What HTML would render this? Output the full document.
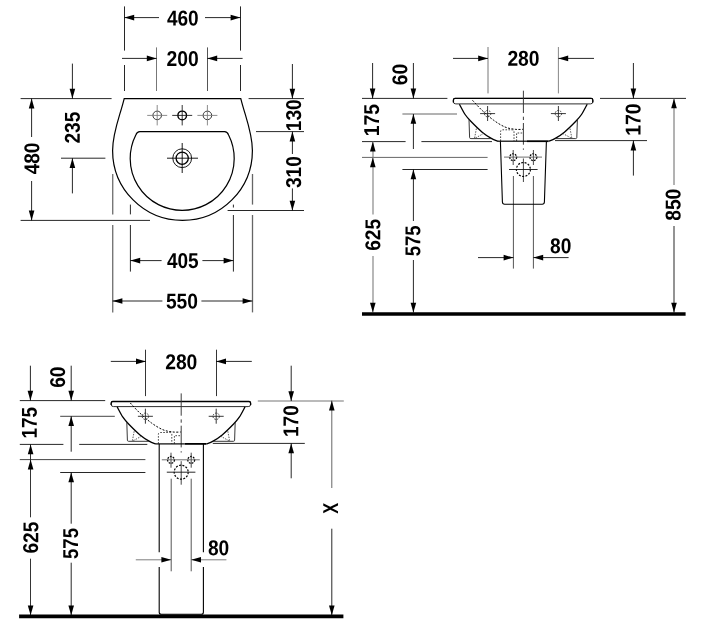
<!DOCTYPE html>
<html><head><meta charset="utf-8"><title>Drawing</title>
<style>
html,body{margin:0;padding:0;background:#fff}
svg{display:block;will-change:transform}
text{font-family:"Liberation Sans",sans-serif;font-weight:bold;font-size:21.5px;fill:#000}
</style></head><body>
<svg width="702" height="630" viewBox="0 0 702 630">
<rect width="702" height="630" fill="#fff"/>
<line x1="124.50" y1="6.40" x2="124.50" y2="50.60" stroke="#000" stroke-width="0.85" />
<line x1="124.50" y1="65.00" x2="124.50" y2="91.00" stroke="#000" stroke-width="0.85" />
<line x1="240.50" y1="6.40" x2="240.50" y2="50.60" stroke="#000" stroke-width="0.85" />
<line x1="240.50" y1="65.00" x2="240.50" y2="91.00" stroke="#000" stroke-width="0.85" />
<line x1="124.40" y1="17.60" x2="159.00" y2="17.60" stroke="#000" stroke-width="0.85" />
<polygon points="124.40,17.60 134.20,14.80 134.20,20.40" fill="#000"/>
<line x1="205.00" y1="17.60" x2="240.40" y2="17.60" stroke="#000" stroke-width="0.85" />
<polygon points="240.40,17.60 230.60,14.80 230.60,20.40" fill="#000"/>
<text transform="translate(166.93,25.50) rotate(0.2) scale(0.8849,1)">460</text>
<line x1="156.50" y1="47.40" x2="156.50" y2="91.00" stroke="#777" stroke-width="1" />
<line x1="207.50" y1="47.40" x2="207.50" y2="91.00" stroke="#555" stroke-width="1" />
<line x1="122.00" y1="58.40" x2="156.60" y2="58.40" stroke="#000" stroke-width="0.85" />
<polygon points="156.60,58.40 146.80,55.60 146.80,61.20" fill="#000"/>
<line x1="207.40" y1="58.40" x2="242.60" y2="58.40" stroke="#000" stroke-width="0.85" />
<polygon points="207.40,58.40 217.20,55.60 217.20,61.20" fill="#000"/>
<text transform="translate(166.59,65.90) rotate(0.2) scale(0.8975,1)">200</text>
<line x1="20.60" y1="98.60" x2="111.60" y2="98.60" stroke="#000" stroke-width="0.85" />
<line x1="248.60" y1="98.60" x2="304.00" y2="98.60" stroke="#000" stroke-width="0.85" />
<line x1="72.40" y1="63.60" x2="72.40" y2="98.60" stroke="#000" stroke-width="0.85" />
<polygon points="72.40,98.60 69.60,88.80 75.20,88.80" fill="#000"/>
<line x1="31.60" y1="98.60" x2="31.60" y2="137.00" stroke="#000" stroke-width="0.85" />
<polygon points="31.60,98.60 28.80,108.40 34.40,108.40" fill="#000"/>
<line x1="31.60" y1="181.00" x2="31.60" y2="220.40" stroke="#000" stroke-width="0.85" />
<polygon points="31.60,220.40 28.80,210.60 34.40,210.60" fill="#000"/>
<text transform="translate(39.30,174.37) rotate(-89.8) scale(0.8880,1)">480</text>
<text transform="translate(79.80,143.60) rotate(-89.8) scale(0.8880,1)">235</text>
<line x1="61.00" y1="158.20" x2="105.40" y2="158.20" stroke="#000" stroke-width="0.85" />
<line x1="72.40" y1="158.20" x2="72.40" y2="193.40" stroke="#000" stroke-width="0.85" />
<polygon points="72.40,158.20 69.60,168.00 75.20,168.00" fill="#000"/>
<line x1="20.60" y1="220.40" x2="150.00" y2="220.40" stroke="#000" stroke-width="0.85" />
<line x1="112.70" y1="174.00" x2="112.70" y2="214.40" stroke="#777" stroke-width="1.4" />
<line x1="112.70" y1="225.00" x2="112.70" y2="312.40" stroke="#777" stroke-width="1.4" />
<line x1="252.50" y1="174.00" x2="252.50" y2="204.60" stroke="#666" stroke-width="1.3" />
<line x1="252.50" y1="215.00" x2="252.50" y2="312.40" stroke="#666" stroke-width="1.3" />
<line x1="130.40" y1="204.60" x2="130.40" y2="214.40" stroke="#000" stroke-width="0.85" />
<line x1="130.40" y1="225.00" x2="130.40" y2="271.60" stroke="#000" stroke-width="0.85" />
<line x1="233.40" y1="204.60" x2="233.40" y2="207.50" stroke="#000" stroke-width="0.85" />
<line x1="233.40" y1="215.00" x2="233.40" y2="271.60" stroke="#000" stroke-width="0.85" />
<line x1="130.40" y1="260.60" x2="161.60" y2="260.60" stroke="#000" stroke-width="0.85" />
<polygon points="130.40,260.60 140.20,257.80 140.20,263.40" fill="#000"/>
<line x1="202.40" y1="260.60" x2="233.40" y2="260.60" stroke="#000" stroke-width="0.85" />
<polygon points="233.40,260.60 223.60,257.80 223.60,263.40" fill="#000"/>
<text transform="translate(166.93,268.00) rotate(0.2) scale(0.8844,1)">405</text>
<line x1="112.60" y1="301.00" x2="162.40" y2="301.00" stroke="#000" stroke-width="0.85" />
<polygon points="112.60,301.00 122.40,298.20 122.40,303.80" fill="#000"/>
<line x1="201.40" y1="301.00" x2="252.40" y2="301.00" stroke="#000" stroke-width="0.85" />
<polygon points="252.40,301.00 242.60,298.20 242.60,303.80" fill="#000"/>
<text transform="translate(165.90,308.40) rotate(0.2) scale(0.8917,1)">550</text>
<line x1="292.40" y1="64.00" x2="292.40" y2="98.60" stroke="#000" stroke-width="0.85" />
<polygon points="292.40,98.60 289.60,88.80 295.20,88.80" fill="#000"/>
<line x1="256.00" y1="131.60" x2="304.00" y2="131.60" stroke="#000" stroke-width="0.85" />
<line x1="227.60" y1="210.50" x2="304.00" y2="210.50" stroke="#000" stroke-width="0.85" />
<text transform="translate(301.00,131.16) rotate(-89.8) scale(0.8880,1)">130</text>
<text transform="translate(301.00,188.08) rotate(-89.8) scale(0.8880,1)">310</text>
<line x1="292.40" y1="131.60" x2="292.40" y2="154.00" stroke="#000" stroke-width="0.85" />
<polygon points="292.40,131.60 289.60,141.40 295.20,141.40" fill="#000"/>
<line x1="292.40" y1="188.40" x2="292.40" y2="210.50" stroke="#000" stroke-width="0.85" />
<polygon points="292.40,210.50 289.60,200.70 295.20,200.70" fill="#000"/>
<path d="M124.2,98.6 H240.8 C245,116 252.4,132 252.4,150.4 A69.9,70 0 0 1 112.6,150.4 C112.6,132 120,116 124.2,98.6 Z" fill="none" stroke="#000" stroke-width="1.2" />
<path d="M139.8,131.6 H224.6 Q227.3,131.7 228.6,134.9 A52,52 0 1 1 135.8,134.9 Q137.1,131.7 139.8,131.6 Z" fill="none" stroke="#000" stroke-width="1.2" />
<circle cx="157.20" cy="115.40" r="4.30" fill="none" stroke="#222" stroke-width="0.9" />
<line x1="147.20" y1="115.40" x2="167.20" y2="115.40" stroke="#777" stroke-width="0.85" />
<line x1="157.20" y1="105.00" x2="157.20" y2="125.40" stroke="#777" stroke-width="0.85" />
<circle cx="182.20" cy="115.40" r="4.30" fill="none" stroke="#000" stroke-width="1.4" />
<line x1="172.20" y1="115.40" x2="192.20" y2="115.40" stroke="#111" stroke-width="0.85" />
<line x1="182.20" y1="105.00" x2="182.20" y2="125.40" stroke="#111" stroke-width="0.85" />
<circle cx="207.40" cy="115.40" r="4.30" fill="none" stroke="#222" stroke-width="0.9" />
<line x1="197.40" y1="115.40" x2="217.40" y2="115.40" stroke="#777" stroke-width="0.85" />
<line x1="207.40" y1="105.00" x2="207.40" y2="125.40" stroke="#777" stroke-width="0.85" />
<circle cx="182.20" cy="158.20" r="9.40" fill="none" stroke="#000" stroke-width="0.9" />
<circle cx="182.20" cy="158.20" r="6.10" fill="none" stroke="#000" stroke-width="1.3" />
<line x1="167.00" y1="158.20" x2="198.00" y2="158.20" stroke="#000" stroke-width="0.9" />
<line x1="182.20" y1="143.00" x2="182.20" y2="173.00" stroke="#000" stroke-width="0.9" />
<line x1="372.60" y1="63.00" x2="372.60" y2="98.40" stroke="#000" stroke-width="0.85" />
<polygon points="372.60,98.40 369.80,88.60 375.40,88.60" fill="#000"/>
<line x1="413.40" y1="63.00" x2="413.40" y2="98.40" stroke="#000" stroke-width="0.85" />
<polygon points="413.40,98.40 410.60,88.60 416.20,88.60" fill="#000"/>
<line x1="362.00" y1="98.40" x2="447.40" y2="98.40" stroke="#000" stroke-width="0.85" />
<text transform="translate(407.20,85.15) rotate(-89.8) scale(0.8906,1)">60</text>
<text transform="translate(379.00,136.21) rotate(-89.8) scale(0.8957,1)">175</text>
<line x1="402.40" y1="114.00" x2="457.00" y2="114.00" stroke="#666" stroke-width="1.0" />
<line x1="413.40" y1="114.00" x2="413.40" y2="149.00" stroke="#000" stroke-width="0.85" />
<polygon points="413.40,114.00 410.60,123.80 416.20,123.80" fill="#000"/>
<line x1="362.00" y1="141.60" x2="405.60" y2="141.60" stroke="#000" stroke-width="0.85" />
<line x1="421.40" y1="141.60" x2="492.00" y2="141.60" stroke="#000" stroke-width="0.85" />
<line x1="373.00" y1="141.60" x2="373.00" y2="157.40" stroke="#888" stroke-width="1.2" />
<polygon points="372.80,141.60 370.00,151.40 375.60,151.40" fill="#000"/>
<line x1="362.00" y1="157.40" x2="487.60" y2="157.40" stroke="#666" stroke-width="1.0" />
<line x1="373.00" y1="157.40" x2="373.00" y2="214.60" stroke="#888" stroke-width="1.2" />
<polygon points="372.80,157.40 370.00,167.20 375.60,167.20" fill="#000"/>
<line x1="402.40" y1="169.50" x2="487.60" y2="169.50" stroke="#000" stroke-width="0.85" />
<line x1="413.40" y1="169.50" x2="413.40" y2="221.00" stroke="#000" stroke-width="0.85" />
<polygon points="413.40,169.50 410.60,179.30 416.20,179.30" fill="#000"/>
<text transform="translate(380.30,250.85) rotate(-89.8) scale(0.8912,1)">625</text>
<text transform="translate(420.20,256.33) rotate(-89.8) scale(0.8651,1)">575</text>
<line x1="373.00" y1="256.00" x2="373.00" y2="312.60" stroke="#888" stroke-width="1.2" />
<polygon points="372.80,312.60 370.00,302.80 375.60,302.80" fill="#000"/>
<line x1="413.40" y1="260.00" x2="413.40" y2="312.60" stroke="#000" stroke-width="0.85" />
<polygon points="413.40,312.60 410.60,302.80 416.20,302.80" fill="#000"/>
<line x1="488.00" y1="47.00" x2="488.00" y2="93.40" stroke="#777" stroke-width="1.0" />
<line x1="558.40" y1="47.00" x2="558.40" y2="93.40" stroke="#888" stroke-width="1.0" />
<line x1="453.00" y1="58.40" x2="488.00" y2="58.40" stroke="#000" stroke-width="0.85" />
<polygon points="488.00,58.40 478.20,55.60 478.20,61.20" fill="#000"/>
<line x1="558.40" y1="58.40" x2="594.00" y2="58.40" stroke="#000" stroke-width="0.85" />
<polygon points="558.40,58.40 568.20,55.60 568.20,61.20" fill="#000"/>
<text transform="translate(507.44,65.80) rotate(0.2) scale(0.8946,1)">280</text>
<line x1="600.00" y1="98.40" x2="686.00" y2="98.40" stroke="#000" stroke-width="0.85" />
<line x1="633.40" y1="63.00" x2="633.40" y2="98.40" stroke="#000" stroke-width="0.85" />
<polygon points="633.40,98.40 630.60,88.60 636.20,88.60" fill="#000"/>
<text transform="translate(640.50,135.71) rotate(-89.8) scale(0.8963,1)">170</text>
<line x1="555.00" y1="140.60" x2="647.00" y2="140.60" stroke="#000" stroke-width="0.85" />
<line x1="633.40" y1="140.60" x2="633.40" y2="175.60" stroke="#000" stroke-width="0.85" />
<polygon points="633.40,140.60 630.60,150.40 636.20,150.40" fill="#000"/>
<line x1="674.00" y1="98.40" x2="674.00" y2="185.00" stroke="#666" stroke-width="1.0" />
<polygon points="674.00,98.40 671.20,108.20 676.80,108.20" fill="#000"/>
<line x1="674.00" y1="226.00" x2="674.00" y2="312.60" stroke="#000" stroke-width="0.85" />
<polygon points="674.00,312.60 671.20,302.80 676.80,302.80" fill="#000"/>
<text transform="translate(680.50,220.76) rotate(-89.8) scale(0.8946,1)">850</text>
<line x1="362.00" y1="314.00" x2="685.60" y2="314.00" stroke="#000" stroke-width="3.6" />
<line x1="513.40" y1="176.00" x2="513.40" y2="268.60" stroke="#555" stroke-width="1.0" />
<line x1="533.40" y1="176.00" x2="533.40" y2="268.60" stroke="#555" stroke-width="1.0" />
<line x1="478.00" y1="257.60" x2="513.40" y2="257.60" stroke="#000" stroke-width="0.85" />
<polygon points="513.40,257.60 503.60,254.80 503.60,260.40" fill="#000"/>
<line x1="533.40" y1="257.60" x2="568.60" y2="257.60" stroke="#000" stroke-width="0.85" />
<polygon points="533.40,257.60 543.20,254.80 543.20,260.40" fill="#000"/>
<text transform="translate(550.08,253.20) rotate(0.2) scale(0.8880,1)">80</text>
<g transform="translate(0.00,0.00)">
<path d="M455,98.4 H591.2 Q592.8,98.4 592.8,100.0 V101.9 Q592.8,103.9 590.4,103.9 H455.8 Q453.4,103.9 453.4,101.9 V100.0 Q453.4,98.4 455,98.4 Z" fill="none" stroke="#222" stroke-width="0.95" />
<path d="M453.4,102.4 V100.0 Q453.4,98.4 455,98.4 H591.2 Q592.8,98.4 592.8,100.0 V102.4" fill="none" stroke="#000" stroke-width="1.3" />
<path d="M459.40,104.20 C460.35,105.92 463.20,111.65 465.10,114.50 C467.00,117.35 467.95,118.35 470.80,121.30 C473.65,124.25 478.78,129.35 482.20,132.20 C485.62,135.05 488.65,136.88 491.30,138.40 C493.95,139.92 496.97,140.82 498.10,141.30" fill="none" stroke="#000" stroke-width="1.3" />
<path d="M587.20,104.20 C586.25,105.92 583.40,111.65 581.50,114.50 C579.60,117.35 578.65,118.35 575.80,121.30 C572.95,124.25 567.82,129.35 564.40,132.20 C560.98,135.05 557.95,136.88 555.30,138.40 C552.65,139.92 549.63,140.82 548.50,141.30" fill="none" stroke="#000" stroke-width="1.3" />
<path d="M469,119.5 L469.6,137.6 Q469.7,138.6 470.8,138.6 H491" fill="none" stroke="#222" stroke-width="0.9" />
<path d="M577.4,119.5 L576.8,137.6 Q576.7,138.6 575.6,138.6 H555.4" fill="none" stroke="#222" stroke-width="0.9" />
<path d="M474.6,138 L476.4,128.5 M475.5,138 L484.5,133" fill="none" stroke="#333" stroke-width="0.8" stroke-dasharray="1.5 1.2"/>
<path d="M571.8,138 L570,128.5 M571,138 L562,133" fill="none" stroke="#333" stroke-width="0.8" stroke-dasharray="1.5 1.2"/>
<path d="M472.50,100.30 C474.12,102.00 478.68,107.18 482.20,110.50 C485.72,113.82 489.80,117.45 493.60,120.20 C497.40,122.95 501.40,125.48 505.00,127.00 C508.60,128.52 512.20,128.92 515.20,129.30 C518.20,129.68 521.70,129.30 523.00,129.30" fill="none" stroke="#000" stroke-width="1.0" stroke-dasharray="2 1.5"/>
<path d="M500.6,141 V131.5 Q500.6,129.8 502.5,129.8 H512 Q514,129.8 514,131.5 V141 M516.6,141 V133 H523" fill="none" stroke="#333" stroke-width="0.9" stroke-dasharray="1.6 1.4"/>
<path d="M523.4,90.7 V113 M523.4,116.7 V120 M523.4,123 V144.7" fill="none" stroke="#333" stroke-width="0.95" />
<path d="M523.4,148.3 V150" fill="none" stroke="#444" stroke-width="0.8" />
<line x1="523.40" y1="158.50" x2="523.40" y2="182.00" stroke="#222" stroke-width="0.85" />
<line x1="480.10" y1="113.60" x2="495.10" y2="113.60" stroke="#222" stroke-width="0.9" />
<line x1="487.60" y1="106.00" x2="487.60" y2="121.00" stroke="#222" stroke-width="0.9" />
<circle cx="487.60" cy="113.60" r="3.20" fill="none" stroke="#222" stroke-width="0.9" stroke-dasharray="1.5 1.2"/>
<line x1="550.90" y1="113.60" x2="565.90" y2="113.60" stroke="#222" stroke-width="0.9" />
<line x1="558.40" y1="106.00" x2="558.40" y2="121.00" stroke="#222" stroke-width="0.9" />
<circle cx="558.40" cy="113.60" r="3.20" fill="none" stroke="#222" stroke-width="0.9" stroke-dasharray="1.5 1.2"/>
<circle cx="513.20" cy="157.20" r="3.40" fill="none" stroke="#000" stroke-width="1.3" stroke-dasharray="1.8 1.1"/>
<line x1="513.20" y1="150.00" x2="513.20" y2="165.00" stroke="#333" stroke-width="0.9" />
<circle cx="533.40" cy="157.20" r="3.40" fill="none" stroke="#000" stroke-width="1.3" stroke-dasharray="1.8 1.1"/>
<line x1="533.40" y1="150.00" x2="533.40" y2="165.00" stroke="#333" stroke-width="0.9" />
<line x1="504.00" y1="157.10" x2="542.00" y2="157.10" stroke="#555" stroke-width="0.85" />
<circle cx="523.40" cy="169.50" r="7.00" fill="none" stroke="#000" stroke-width="1.2" stroke-dasharray="2 1.4"/>
<line x1="509.00" y1="169.50" x2="537.60" y2="169.50" stroke="#111" stroke-width="0.9" />
<path d="M500.4,141.2 L502.4,202 Q502.5,204.2 504.6,204.2 H542.2 Q544.3,204.2 544.4,202 L546.4,141.2" fill="none" stroke="#000" stroke-width="1.1" />
<line x1="498.00" y1="141.20" x2="527.00" y2="141.20" stroke="#000" stroke-width="1.2" />
<line x1="527.00" y1="141.20" x2="548.50" y2="141.20" stroke="#000" stroke-width="1.8" />
</g>
<line x1="30.40" y1="365.70" x2="30.40" y2="400.60" stroke="#000" stroke-width="0.85" />
<polygon points="30.40,400.60 27.60,390.80 33.20,390.80" fill="#000"/>
<line x1="71.20" y1="365.70" x2="71.20" y2="400.60" stroke="#000" stroke-width="0.85" />
<polygon points="71.20,400.60 68.40,390.80 74.00,390.80" fill="#000"/>
<line x1="19.80" y1="400.60" x2="105.20" y2="400.60" stroke="#000" stroke-width="0.85" />
<text transform="translate(65.00,387.85) rotate(-89.8) scale(0.8906,1)">60</text>
<text transform="translate(36.80,438.44) rotate(-89.8) scale(0.8809,1)">175</text>
<line x1="60.20" y1="416.30" x2="114.80" y2="416.30" stroke="#222" stroke-width="0.85" />
<line x1="71.20" y1="416.30" x2="71.20" y2="451.70" stroke="#000" stroke-width="0.85" />
<polygon points="71.20,416.30 68.40,426.10 74.00,426.10" fill="#000"/>
<line x1="19.80" y1="444.40" x2="63.40" y2="444.40" stroke="#000" stroke-width="0.85" />
<line x1="79.20" y1="444.40" x2="147.30" y2="444.40" stroke="#000" stroke-width="0.85" />
<line x1="30.50" y1="444.40" x2="30.50" y2="459.60" stroke="#111" stroke-width="0.85" />
<polygon points="30.60,444.40 27.80,454.20 33.40,454.20" fill="#000"/>
<line x1="19.80" y1="459.60" x2="145.40" y2="459.60" stroke="#222" stroke-width="0.85" />
<line x1="30.50" y1="459.60" x2="30.50" y2="517.30" stroke="#111" stroke-width="0.85" />
<polygon points="30.60,459.60 27.80,469.40 33.40,469.40" fill="#000"/>
<line x1="60.20" y1="472.50" x2="145.40" y2="472.50" stroke="#000" stroke-width="0.85" />
<line x1="71.20" y1="472.50" x2="71.20" y2="523.70" stroke="#000" stroke-width="0.85" />
<polygon points="71.20,472.50 68.40,482.30 74.00,482.30" fill="#000"/>
<text transform="translate(38.10,553.55) rotate(-89.8) scale(0.8912,1)">625</text>
<text transform="translate(78.00,559.03) rotate(-89.8) scale(0.8651,1)">575</text>
<line x1="30.50" y1="558.70" x2="30.50" y2="615.30" stroke="#111" stroke-width="0.85" />
<polygon points="30.60,615.30 27.80,605.50 33.40,605.50" fill="#000"/>
<line x1="71.20" y1="562.70" x2="71.20" y2="615.30" stroke="#000" stroke-width="0.85" />
<polygon points="71.20,615.30 68.40,605.50 74.00,605.50" fill="#000"/>
<line x1="145.50" y1="349.70" x2="145.50" y2="396.10" stroke="#111" stroke-width="0.85" />
<line x1="216.50" y1="349.70" x2="216.50" y2="396.10" stroke="#111" stroke-width="0.85" />
<line x1="110.80" y1="361.40" x2="145.80" y2="361.40" stroke="#000" stroke-width="0.85" />
<polygon points="145.80,361.40 136.00,358.60 136.00,364.20" fill="#000"/>
<line x1="216.20" y1="361.40" x2="251.80" y2="361.40" stroke="#000" stroke-width="0.85" />
<polygon points="216.20,361.40 226.00,358.60 226.00,364.20" fill="#000"/>
<text transform="translate(165.24,369.30) rotate(0.2) scale(0.8946,1)">280</text>
<line x1="257.80" y1="401.00" x2="343.80" y2="401.00" stroke="#777" stroke-width="1.1" />
<line x1="291.20" y1="365.70" x2="291.20" y2="401.00" stroke="#000" stroke-width="0.85" />
<polygon points="291.20,401.00 288.40,391.20 294.00,391.20" fill="#000"/>
<text transform="translate(298.30,437.05) rotate(-89.8) scale(0.8873,1)">170</text>
<line x1="212.80" y1="443.40" x2="304.80" y2="443.40" stroke="#000" stroke-width="0.85" />
<line x1="291.20" y1="443.40" x2="291.20" y2="478.30" stroke="#000" stroke-width="0.85" />
<polygon points="291.20,443.40 288.40,453.20 294.00,453.20" fill="#000"/>
<line x1="331.80" y1="400.60" x2="331.80" y2="488.00" stroke="#666" stroke-width="1.0" />
<polygon points="331.80,400.60 329.00,410.40 334.60,410.40" fill="#000"/>
<line x1="331.80" y1="528.70" x2="331.80" y2="615.30" stroke="#000" stroke-width="0.85" />
<polygon points="331.80,615.30 329.00,605.50 334.60,605.50" fill="#000"/>
<text transform="translate(337.90,513.63) rotate(-89.8) scale(0.7540,1)">X</text>
<line x1="19.10" y1="616.40" x2="343.40" y2="616.40" stroke="#000" stroke-width="3.6" />
<line x1="171.20" y1="478.70" x2="171.20" y2="571.30" stroke="#555" stroke-width="1.0" />
<line x1="191.20" y1="478.70" x2="191.20" y2="571.30" stroke="#555" stroke-width="1.0" />
<line x1="135.80" y1="559.80" x2="171.20" y2="559.80" stroke="#666" stroke-width="0.85" />
<polygon points="171.20,559.80 161.40,557.00 161.40,562.60" fill="#000"/>
<line x1="191.20" y1="559.80" x2="226.40" y2="559.80" stroke="#666" stroke-width="0.85" />
<polygon points="191.20,559.80 201.00,557.00 201.00,562.60" fill="#000"/>
<text transform="translate(207.88,555.20) rotate(0.2) scale(0.8880,1)">80</text>
<g transform="translate(-342.20,302.70)">
<path d="M455,98.8 H591.2 Q592.8,98.8 592.8,100.39999999999999 V101.9 Q592.8,103.9 590.4,103.9 H455.8 Q453.4,103.9 453.4,101.9 V100.39999999999999 Q453.4,98.8 455,98.8 Z" fill="none" stroke="#222" stroke-width="0.95" />
<path d="M453.4,102.4 V100.39999999999999 Q453.4,98.8 455,98.8 H591.2 Q592.8,98.8 592.8,100.39999999999999 V102.4" fill="none" stroke="#000" stroke-width="1.3" />
<path d="M459.40,104.20 C460.35,105.92 463.20,111.65 465.10,114.50 C467.00,117.35 467.95,118.35 470.80,121.30 C473.65,124.25 478.78,129.35 482.20,132.20 C485.62,135.05 488.65,136.88 491.30,138.40 C493.95,139.92 496.97,140.82 498.10,141.30" fill="none" stroke="#000" stroke-width="1.3" />
<path d="M587.20,104.20 C586.25,105.92 583.40,111.65 581.50,114.50 C579.60,117.35 578.65,118.35 575.80,121.30 C572.95,124.25 567.82,129.35 564.40,132.20 C560.98,135.05 557.95,136.88 555.30,138.40 C552.65,139.92 549.63,140.82 548.50,141.30" fill="none" stroke="#000" stroke-width="1.3" />
<path d="M469,119.5 L469.6,137.6 Q469.7,138.6 470.8,138.6 H491" fill="none" stroke="#222" stroke-width="0.9" />
<path d="M577.4,119.5 L576.8,137.6 Q576.7,138.6 575.6,138.6 H555.4" fill="none" stroke="#222" stroke-width="0.9" />
<path d="M474.6,138 L476.4,128.5 M475.5,138 L484.5,133" fill="none" stroke="#333" stroke-width="0.8" stroke-dasharray="1.5 1.2"/>
<path d="M571.8,138 L570,128.5 M571,138 L562,133" fill="none" stroke="#333" stroke-width="0.8" stroke-dasharray="1.5 1.2"/>
<path d="M472.50,100.30 C474.12,102.00 478.68,107.18 482.20,110.50 C485.72,113.82 489.80,117.45 493.60,120.20 C497.40,122.95 501.40,125.48 505.00,127.00 C508.60,128.52 512.20,128.92 515.20,129.30 C518.20,129.68 521.70,129.30 523.00,129.30" fill="none" stroke="#000" stroke-width="1.0" stroke-dasharray="2 1.5"/>
<path d="M500.6,141 V131.5 Q500.6,129.8 502.5,129.8 H512 Q514,129.8 514,131.5 V141 M516.6,141 V133 H523" fill="none" stroke="#333" stroke-width="0.9" stroke-dasharray="1.6 1.4"/>
<path d="M523.4,90.7 V113 M523.4,116.7 V120 M523.4,123 V144.7" fill="none" stroke="#333" stroke-width="0.95" />
<path d="M523.4,148.3 V150" fill="none" stroke="#444" stroke-width="0.8" />
<line x1="523.40" y1="158.50" x2="523.40" y2="182.00" stroke="#222" stroke-width="0.85" />
<line x1="480.10" y1="113.60" x2="495.10" y2="113.60" stroke="#222" stroke-width="0.9" />
<line x1="487.60" y1="106.00" x2="487.60" y2="121.00" stroke="#222" stroke-width="0.9" />
<circle cx="487.60" cy="113.60" r="3.20" fill="none" stroke="#222" stroke-width="0.9" stroke-dasharray="1.5 1.2"/>
<line x1="550.90" y1="113.60" x2="565.90" y2="113.60" stroke="#222" stroke-width="0.9" />
<line x1="558.40" y1="106.00" x2="558.40" y2="121.00" stroke="#222" stroke-width="0.9" />
<circle cx="558.40" cy="113.60" r="3.20" fill="none" stroke="#222" stroke-width="0.9" stroke-dasharray="1.5 1.2"/>
<circle cx="513.20" cy="157.20" r="3.40" fill="none" stroke="#000" stroke-width="1.3" stroke-dasharray="1.8 1.1"/>
<line x1="513.20" y1="150.00" x2="513.20" y2="165.00" stroke="#333" stroke-width="0.9" />
<circle cx="533.40" cy="157.20" r="3.40" fill="none" stroke="#000" stroke-width="1.3" stroke-dasharray="1.8 1.1"/>
<line x1="533.40" y1="150.00" x2="533.40" y2="165.00" stroke="#333" stroke-width="0.9" />
<line x1="504.00" y1="157.10" x2="542.00" y2="157.10" stroke="#555" stroke-width="0.85" />
<circle cx="523.40" cy="169.50" r="7.00" fill="none" stroke="#000" stroke-width="1.2" stroke-dasharray="2 1.4"/>
<line x1="509.00" y1="169.50" x2="537.60" y2="169.50" stroke="#111" stroke-width="0.9" />
<path d="M501.4,141.2 V249.6 M501.4,264.4 V309.6 Q501.4,311.6 503.4,311.6 H543.6 Q545.6,311.6 545.6,309.6 V264.4 M545.6,249.6 V141.2" fill="none" stroke="#000" stroke-width="1.1" />
<line x1="498.00" y1="141.20" x2="527.00" y2="141.20" stroke="#000" stroke-width="1.2" />
<line x1="527.00" y1="141.20" x2="548.50" y2="141.20" stroke="#000" stroke-width="1.8" />
</g>
</svg>
</body></html>
